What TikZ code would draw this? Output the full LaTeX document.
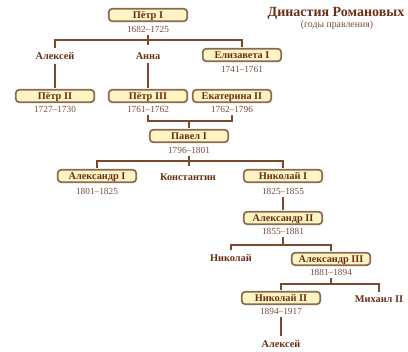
\documentclass[tikz,border=0pt]{standalone}
\usepackage{fontspec}
\setmainfont{Liberation Serif}
\definecolor{boxfill}{HTML}{FFF5C4}
\definecolor{boxline}{HTML}{8A6A50}
\definecolor{namecol}{HTML}{6A2E14}
\definecolor{yearcol}{HTML}{7A4A3C}
\definecolor{linecol}{HTML}{7B4A2E}
\begin{document}
\begin{tikzpicture}[x=1pt,y=-1pt,
  box/.style={draw=boxline, line width=1.7pt, fill=boxfill, rounded corners=3.5pt,
    minimum width=78.5pt, minimum height=12.5pt, inner sep=0pt, outer sep=1.5pt,
    text height=7pt, text depth=0.5pt,
    font=\fontsize{10.3}{11}\selectfont\bfseries, text=namecol},
  yrs/.style={font=\fontsize{9.3}{10}\selectfont, text=yearcol, inner sep=1pt, outer sep=1.5pt},
  nm/.style={font=\fontsize{10.3}{11}\selectfont\bfseries, text=namecol, inner sep=1pt, outer sep=3pt},
  ln/.style={draw=linecol, line width=1.2pt}]
\useasboundingbox (0,0) rectangle (408,352);
% title
\node[font=\fontsize{14}{15}\selectfont\bfseries, text=namecol] (title) at (336,13) {Династия Романовых};
\node[font=\fontsize{9.8}{11}\selectfont, text=yearcol] (sub) at (337,25.5) {(годы правления)};
% nodes
\node[box] (p1) at (148,15) {Пётр I};
\node[yrs] (p1y) at (148,29) {1682–1725};
\node[nm] (alx1) at (55,56) {Алексей};
\node[nm] (anna) at (148,56) {Анна};
\node[box] (eliz) at (242,55) {Елизавета I};
\node[yrs] (elizy) at (242,69) {1741–1761};
\node[box] (p2) at (55,96) {Пётр II};
\node[yrs] (p2y) at (55,109) {1727–1730};
\node[box] (p3) at (148,96) {Пётр III};
\node[yrs] (p3y) at (148,109) {1761–1762};
\node[box] (ek) at (232,96) {Екатерина II};
\node[yrs] (eky) at (232,109) {1762–1796};
\node[box] (pav) at (189,136) {Павел I};
\node[yrs] (pavy) at (189,150) {1796–1801};
\node[box] (a1) at (97,176) {Александр I};
\node[yrs] (a1y) at (97,191) {1801–1825};
\node[nm] (kon) at (188,177) {Константин};
\node[box] (n1) at (283,176) {Николай I};
\node[yrs] (n1y) at (283,191) {1825–1855};
\node[box] (a2) at (283,218) {Александр II};
\node[yrs] (a2y) at (283,231) {1855–1881};
\node[nm] (nik) at (231,258) {Николай};
\node[box] (a3) at (331,259) {Александр III};
\node[yrs] (a3y) at (331,272) {1881–1894};
\node[box] (n2) at (281,298) {Николай II};
\node[yrs] (n2y) at (281,311) {1894–1917};
\node[nm] (mih) at (379,299) {Михаил II};
\node[nm] (alx2) at (281,344) {Алексей};
% bus coordinates
\coordinate (b1) at (148,40);
\coordinate (t1) at (148,45);
\coordinate (b2) at (189,121);
\coordinate (b3) at (189,161);
\coordinate (t3) at (189,166);
\coordinate (b4) at (283,245);
\coordinate (b5) at (331,284);
% connectors
\draw[ln] (alx1.north) |- (b1) -| (eliz.north);
\draw[ln] (p1y.south) -- (t1);
\draw[ln] (alx1.south) -- (p2.north);
\draw[ln] (anna.south) -- (p3.north);
\draw[ln] (p3y.south) |- (b2) -| (eky.south);
\draw[ln] (b2) -- (pav.north);
\draw[ln] (a1.north) |- (b3) -| (n1.north);
\draw[ln] (pavy.south) -- (t3);
\draw[ln] (n1y.south) -- (a2.north);
\draw[ln] (nik.north) |- (b4) -| (a3.north);
\draw[ln] (a2y.south) -- (b4);
\draw[ln] (n2.north) |- (b5) -| (mih.north);
\draw[ln] (a3y.south) -- (b5);
\draw[ln] (n2y.south) -- (alx2.north);
\end{tikzpicture}
\end{document}
